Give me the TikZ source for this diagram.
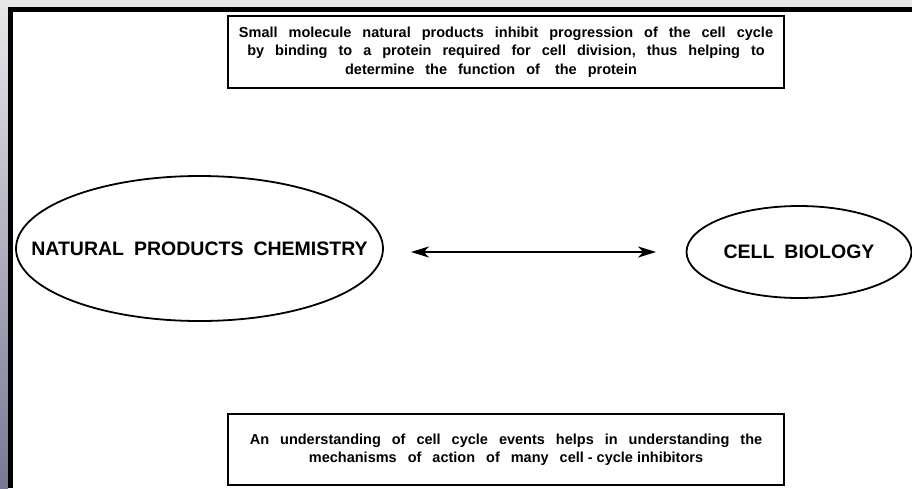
\documentclass[tikz,border=0pt]{standalone}
\usepackage{fontspec}
\setmainfont{Liberation Sans}
\usetikzlibrary{shapes.geometric,arrows.meta}
\definecolor{stripgray}{RGB}{232,232,234}
\definecolor{stripblue}{RGB}{120,120,148}
\newcommand\myboxfont{\fontsize{14.5}{18.5}\selectfont\bfseries\spaceskip=11pt plus 2pt minus 1pt\relax}
\newcommand\myovalfont{\fontsize{19.5}{22}\selectfont\bfseries\spaceskip=10pt\relax}
\tikzset{
  textbox/.style={draw=black, line width=1.6pt, minimum width=556pt, inner sep=0pt, align=center,
    font=\myboxfont},
  oval/.style={draw=black, line width=1.8pt, ellipse, inner ysep=0pt, inner xsep=-80pt,
    font=\myovalfont},
  link/.style={line width=1.8pt, {Stealth[length=18pt,width=11pt,inset=5pt]}-{Stealth[length=18pt,width=11pt,inset=5pt]}}
}
\begin{document}
\begin{tikzpicture}[x=1pt,y=-1pt]
\useasboundingbox (0,0) rectangle (912,488);
\fill[white] (0,0) rectangle (912,488);
% frame
\fill[stripgray] (0,0) rectangle (912,7);
\shade[top color=stripgray, bottom color=stripblue] (0,0) rectangle (8,488);
\fill[black] (8,7) rectangle (912,12);
\fill[black] (8,7) rectangle (13,488);
% boxes
\node[textbox, minimum height=72pt] (top) at (506,52)
  {Small molecule natural products inhibit progression of the cell cycle\\
   by binding to a protein required for cell division, thus helping to\\
   determine the function of\hspace{4pt} the protein\hspace*{30pt}};
\node[textbox, minimum height=71pt] (bottom) at (506,449.5)
  {An understanding of cell cycle events helps in understanding the\\
   mechanisms of action of many cell\hspace{4pt}-\hspace{4pt}cycle\hspace{4pt}inhibitors};
% ellipses
\node[oval, minimum width=367pt, minimum height=145pt] (npc) at (199.5,248.5) {NATURAL PRODUCTS CHEMISTRY};
\node[oval, inner xsep=-40pt, minimum width=225pt, minimum height=92pt] (cb) at (799,252) {CELL BIOLOGY};
% connector
\draw[link, shorten <=27pt, shorten >=29.5pt] (npc.east |- cb.west) -- (cb.west);
\end{tikzpicture}
\end{document}
